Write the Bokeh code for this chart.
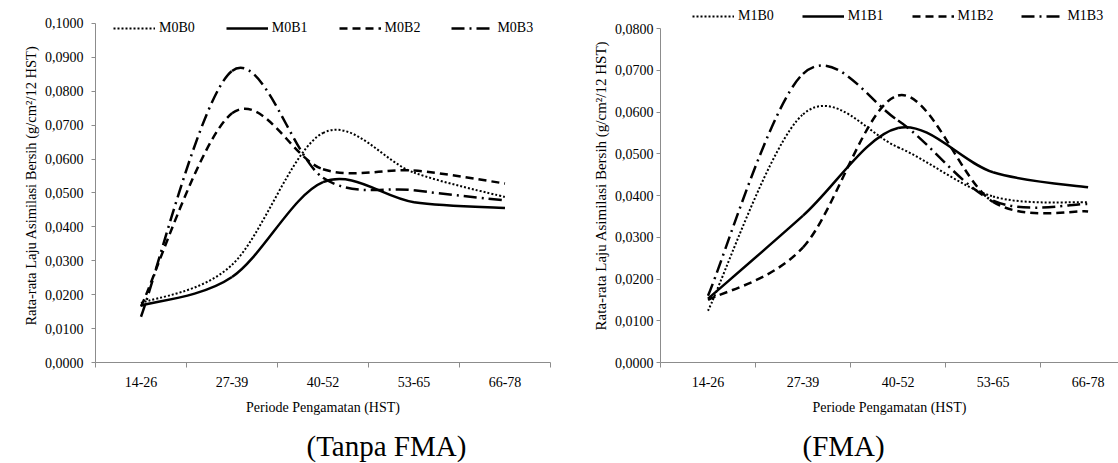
import math
from bokeh.plotting import figure
from bokeh.layouts import row
from bokeh.models import Range1d, FixedTicker, Legend, LegendItem, Title
from bokeh.embed import file_html
from bokeh.resources import INLINE

# ---------------- data ----------------
periods = ["14-26", "27-39", "40-52", "53-65", "66-78"]

left_names = ["M0B0", "M0B1", "M0B2", "M0B3"]
M0B0 = [0.0175, 0.0288, 0.0677, 0.0560, 0.0488]
M0B1 = [0.0168, 0.0252, 0.0532, 0.0473, 0.0456]
M0B2 = [0.0165, 0.0735, 0.0570, 0.0566, 0.0528]
M0B3 = [0.0135, 0.0860, 0.0545, 0.0508, 0.0478]

right_names = ["M1B0", "M1B1", "M1B2", "M1B3"]
M1B0 = [0.0124, 0.0595, 0.0516, 0.0398, 0.0384]
M1B1 = [0.0153, 0.0352, 0.0562, 0.0456, 0.0420]
M1B2 = [0.0150, 0.0276, 0.0640, 0.0385, 0.0362]
M1B3 = [0.0160, 0.0692, 0.0580, 0.0388, 0.0380]

left_y_ticks = [0.00, 0.01, 0.02, 0.03, 0.04, 0.05, 0.06, 0.07, 0.08, 0.09, 0.10]
left_y_labels = ["0,0000", "0,0100", "0,0200", "0,0300", "0,0400", "0,0500",
                 "0,0600", "0,0700", "0,0800", "0,0900", "0,1000"]
right_y_ticks = [0.00, 0.01, 0.02, 0.03, 0.04, 0.05, 0.06, 0.07, 0.08]
right_y_labels = ["0,0000", "0,0100", "0,0200", "0,0300", "0,0400", "0,0500",
                  "0,0600", "0,0700", "0,0800"]

y_title = "Rata-rata Laju Asimilasi Bersih (g/cm²/12 HST)"
x_title = "Periode Pengamatan (HST)"
left_caption = "(Tanpa FMA)"
right_caption = "(FMA)"

# ---------------- styles ----------------
FONT = "'Liberation Serif', 'Times New Roman', serif"
AXIS_COLOR = "#8c8c8c"
STYLES = [
    dict(line_dash="2 2", line_width=2.0),
    dict(line_dash="solid", line_width=2.5),
    dict(line_dash="8 5", line_width=2.5),
    dict(line_dash="13 5 2 5", line_width=2.5),
]


def smooth_segments(values):
    """Excel-like smoothed line: cubic Bezier control points from neighbours."""
    pts = [(i + 0.5, v) for i, v in enumerate(values)]
    n = len(pts)
    seg = dict(x0=[], y0=[], x1=[], y1=[], cx0=[], cy0=[], cx1=[], cy1=[])
    for i in range(n - 1):
        p0 = pts[i - 1] if i > 0 else pts[i]
        p1 = pts[i]
        p2 = pts[i + 1]
        p3 = pts[i + 2] if i + 2 < n else pts[i + 1]
        seg["x0"].append(p1[0]); seg["y0"].append(p1[1])
        seg["x1"].append(p2[0]); seg["y1"].append(p2[1])
        seg["cx0"].append(p1[0] + (p2[0] - p0[0]) / 6)
        seg["cy0"].append(p1[1] + (p2[1] - p0[1]) / 6)
        seg["cx1"].append(p2[0] - (p3[0] - p1[0]) / 6)
        seg["cy1"].append(p2[1] - (p3[1] - p1[1]) / 6)
    return seg


def make_panel(names, series, y_ticks, y_labels, y_max, y_top, x_end, width,
               b_left, b_right, b_top, b_bottom, y_std, legend_loc, legend_spacing,
               ytitle_offset, ytitle_size, caption, caption_offset, gap_standoff):
    p = figure(width=width, height=463, output_backend="svg", toolbar_location=None,
               x_range=Range1d(0, x_end), y_range=Range1d(0, y_top),
               min_border_left=b_left, min_border_right=b_right,
               min_border_top=b_top, min_border_bottom=b_bottom,
               background_fill_color="white", border_fill_color="white")
    p.outline_line_color = None
    p.grid.visible = False

    # x axis: labels at category centres, ticks at category boundaries
    centers = [i + 0.5 for i in range(len(periods))]
    bounds = [float(i) for i in range(len(periods) + 1)]
    xa = p.xaxis[0]
    xa.ticker = FixedTicker(ticks=centers, minor_ticks=bounds)
    xa.major_label_overrides = {c: lab for c, lab in zip(centers, periods)}
    xa.major_tick_line_color = None
    xa.major_tick_out = 0
    xa.major_tick_in = 0
    xa.minor_tick_line_color = AXIS_COLOR
    xa.minor_tick_out = 5
    xa.minor_tick_in = 0
    xa.axis_line_color = AXIS_COLOR
    xa.major_label_text_font = FONT
    xa.major_label_text_font_size = "14px"
    xa.major_label_text_color = "black"
    xa.major_label_standoff = 9
    xa.axis_label = x_title
    xa.axis_label_text_font = FONT
    xa.axis_label_text_font_size = "14px"
    xa.axis_label_text_font_style = "normal"
    xa.axis_label_text_color = "black"
    xa.axis_label_standoff = 10

    ya = p.yaxis[0]
    ya.ticker = FixedTicker(ticks=y_ticks, minor_ticks=[])
    ya.bounds = (0, y_max)
    ya.major_label_overrides = {t: lab for t, lab in zip(y_ticks, y_labels)}
    ya.axis_line_color = AXIS_COLOR
    ya.major_tick_line_color = AXIS_COLOR
    ya.major_tick_out = 4
    ya.major_tick_in = 0
    ya.minor_tick_line_color = None
    ya.major_label_text_font = FONT
    ya.major_label_text_font_size = "14px"
    ya.major_label_text_color = "black"
    ya.major_label_standoff = y_std

    items = []
    for name, vals, st in zip(names, series, STYLES):
        r = p.bezier(**smooth_segments(vals), line_color="black",
                     line_cap="butt", **st)
        items.append(LegendItem(label=name, renderers=[r]))

    legend = Legend(items=items, orientation="horizontal", location=legend_loc,
                    glyph_width=42, glyph_height=14, label_height=14,
                    label_standoff=4, spacing=legend_spacing, padding=0, margin=0,
                    border_line_color=None, background_fill_alpha=0,
                    label_text_font=FONT, label_text_font_size="14px",
                    label_text_color="black")
    p.add_layout(legend)

    p.add_layout(Title(text=y_title, align="center", offset=ytitle_offset,
                       text_font=FONT, text_font_size=ytitle_size,
                       text_font_style="normal", text_color="black", standoff=6), "left")
    # small spacer between the axis title and the caption
    p.add_layout(Title(text=" ", text_font_size="2px", standoff=gap_standoff), "below")
    p.add_layout(Title(text=caption, align="left", vertical_align="bottom",
                       offset=caption_offset, text_font=FONT, text_font_size="29px",
                       text_font_style="normal", text_color="black",
                       standoff=0), "below")
    return p


left = make_panel(left_names, [M0B0, M0B1, M0B2, M0B3], left_y_ticks, left_y_labels,
                  0.10, 0.10442, 5.0, 580, 95, 30, 8, 101, 8, (18, 326), 31,
                  -3, "14.5px", left_caption, 211, 6)
right = make_panel(right_names, [M1B0, M1B1, M1B2, M1B3], right_y_ticks, right_y_labels,
                   0.08, 0.08486, 4.82, 538, 80, 0, 8, 101, 3, (32, 338), 28,
                   14, "15px", right_caption, 142, 6)

layout = row(left, right)
open("out.html", "w").write(file_html(layout, INLINE))
